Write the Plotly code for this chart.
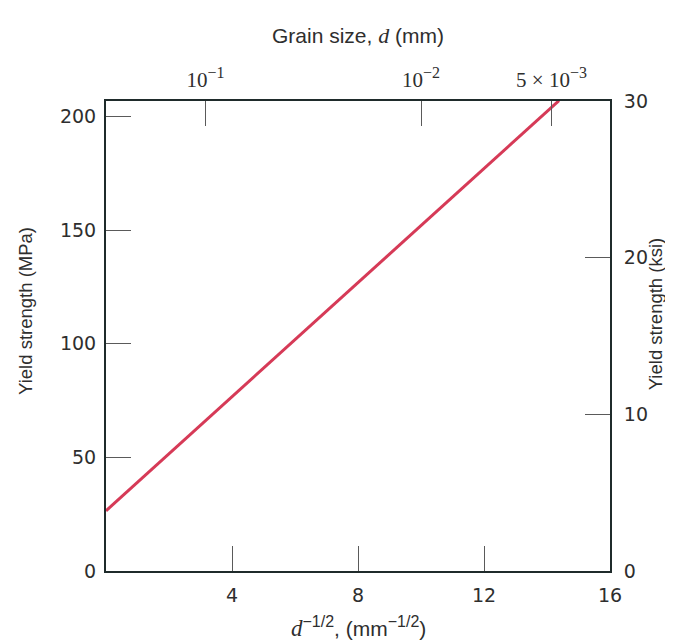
import numpy as np
import plotly.graph_objects as go

# ---- data ----
d_inv_sqrt = [0.0, 14.38]          # d^-1/2 (mm^-1/2)
yield_mpa = [26.5, 207.0]          # yield strength (MPa)

bottom_ticks = [4, 8, 12, 16]
left_ticks = [0, 50, 100, 150, 200]
right_ticks_ksi = [0, 10, 20, 30]
grain_sizes_mm = [0.1, 0.01, 0.005]
SUP = '<sup><span style="font-size:16px">{}</span></sup>'
grain_labels = ["10" + SUP.format("−1"), "10" + SUP.format("−2"), "5 × 10" + SUP.format("−3")]

MPA_PER_KSI = 6.894757
y_max_mpa = 30 * MPA_PER_KSI
yield_ksi = list(np.array(yield_mpa) / MPA_PER_KSI)

AX = "#1f2b2b"
TXT = "#2e2e2e"
TICKC = "#5a5a5a"
SANS = "Liberation Sans, Arial, sans-serif"
TICKFONT = dict(family="DejaVu Sans, sans-serif", size=19, color=TXT)

fig = go.Figure()
fig.add_trace(go.Scatter(
    x=d_inv_sqrt, y=yield_mpa, mode="lines",
    line=dict(color="#d63a57", width=3), showlegend=False, hoverinfo="skip"))
# same line in ksi on the top/right axes (transparent, only registers those axes)
fig.add_trace(go.Scatter(
    x=d_inv_sqrt, y=yield_ksi, mode="lines", xaxis="x2", yaxis="y2", opacity=0,
    line=dict(color="#d63a57", width=3), showlegend=False, hoverinfo="skip"))

common = dict(showgrid=False, zeroline=False, showline=True, linecolor=AX, linewidth=2,
              ticks="inside", ticklen=25, tickwidth=1.2, tickcolor=TICKC, automargin=False)

# page body has an 8px default margin, so the figure is 8px smaller than the window
fig.update_layout(
    width=665, height=634,
    margin=dict(l=98, r=63, t=93, b=71),
    paper_bgcolor="white", plot_bgcolor="white",
    xaxis=dict(range=[0, 16], tickvals=bottom_ticks, tickfont=TICKFONT,
               ticklabelstandoff=6, **common),
    xaxis2=dict(range=[0, 16], overlaying="x", side="top", anchor="y",
                tickvals=list(np.array(grain_sizes_mm) ** -0.5), ticktext=grain_labels,
                tickfont=dict(family="Liberation Serif, serif", size=21, color=TXT),
                ticklabelstandoff=4, **common),
    yaxis=dict(range=[0, y_max_mpa], tickvals=left_ticks, tickfont=TICKFONT,
               ticklabelstandoff=4, **common),
    yaxis2=dict(range=[0, 30], overlaying="y", side="right", anchor="x",
                tickvals=right_ticks_ksi, tickfont=TICKFONT,
                ticklabelstandoff=8, **common),
)

fig.add_annotation(xref="paper", yref="paper", x=0.5, y=1.14, showarrow=False,
                   text='Grain size, <span style="font-family:Liberation Serif;font-style:italic;font-size:22px">d</span> (mm)',
                   font=dict(family=SANS, size=21, color=TXT), xanchor="center", yanchor="middle")
fig.add_annotation(xref="paper", yref="paper", x=0.5, y=-0.119, showarrow=False,
                   text='<span style="font-family:Liberation Serif;font-style:italic;font-size:23px">d</span>'
                        '<sup><span style="font-size:16px">−1/2</span></sup>, (mm'
                        '<sup><span style="font-size:16px">−1/2</span></sup>)',
                   font=dict(family=SANS, size=21, color=TXT), xanchor="center", yanchor="middle")
fig.add_annotation(xref="paper", yref="paper", x=-0.161, y=0.553, showarrow=False,
                   text="Yield strength (MPa)", textangle=-90,
                   font=dict(family=SANS, size=18.5, color=TXT), xanchor="center", yanchor="middle")
fig.add_annotation(xref="paper", yref="paper", x=1.092, y=0.547, showarrow=False,
                   text="Yield strength (ksi)", textangle=-90,
                   font=dict(family=SANS, size=18.5, color=TXT), xanchor="center", yanchor="middle")

fig.write_html("out.html")
